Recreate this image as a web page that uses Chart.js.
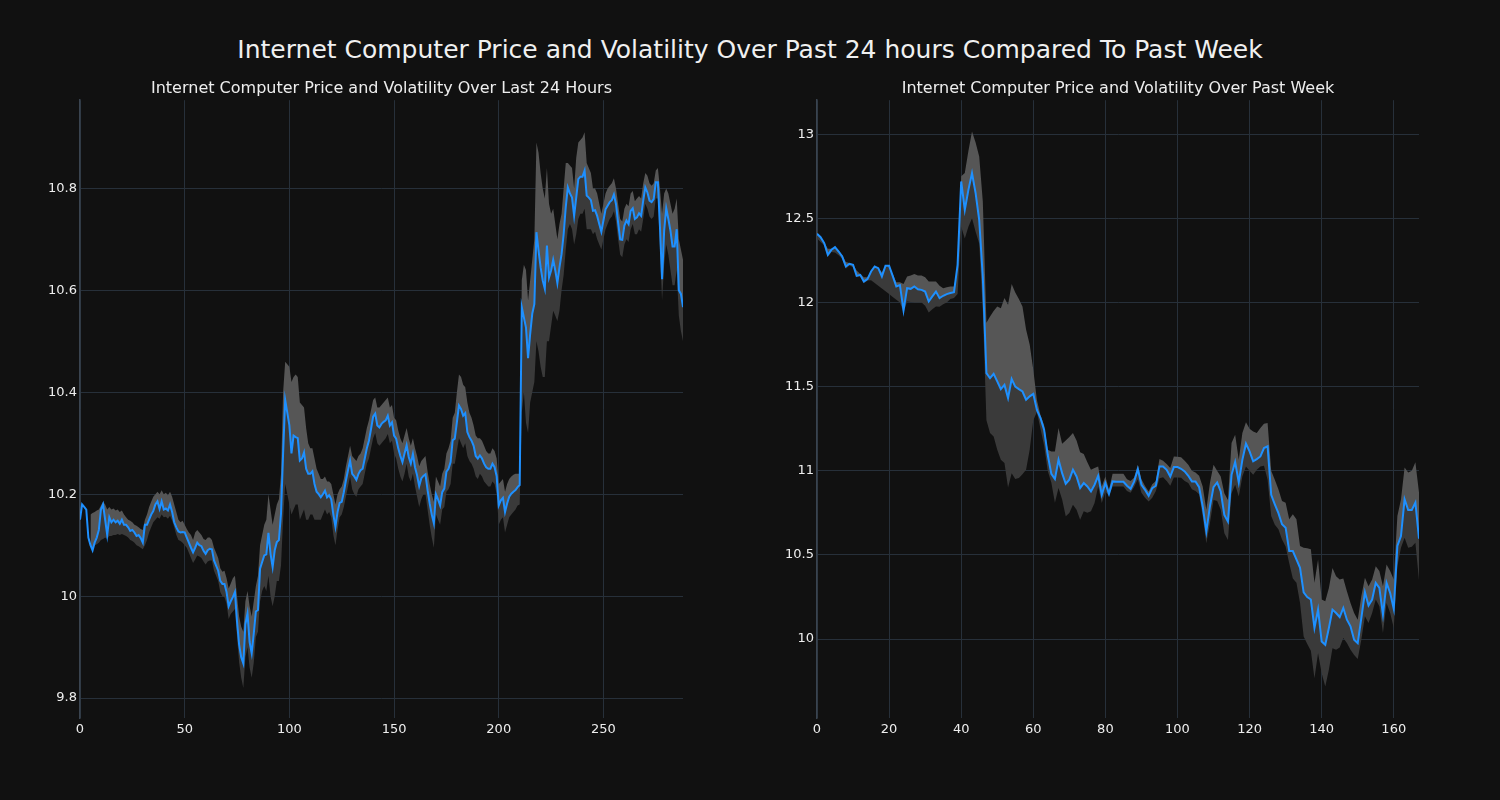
<!DOCTYPE html>
<html><head><meta charset="utf-8">
<script src="https://cdn.jsdelivr.net/npm/chart.js@4.4.0/dist/chart.umd.min.js"></script>
<style>
html,body{margin:0;padding:0;background:#111111;}
body{width:1500px;height:800px;position:relative;overflow:hidden;font-family:"DejaVu Sans",sans-serif;}
#title{position:absolute;left:0;top:35px;width:1500px;text-align:center;color:#f0f0f0;font-size:25px;line-height:30px;}
.box{position:absolute;top:77px;width:750px;height:681px;}
</style></head><body>
<div id="title">Internet Computer Price and Volatility Over Past 24 hours Compared To Past Week</div>
<div class="box" style="left:0"><canvas id="c1" width="750" height="681"></canvas></div>
<div class="box" style="left:750px"><canvas id="c2" width="750" height="681"></canvas></div>
<script>
const leftTitle = "Internet Computer Price and Volatility Over Last 24 Hours";
const rightTitle = "Internet Computer Price and Volatility Over Past Week";

const leftPrice = [
10.15,10.18,10.175,10.17,10.115,10.10,10.09,10.105,10.115,10.13,
10.17,10.18,10.15,10.12,10.155,10.145,10.15,10.145,10.148,10.142,
10.15,10.14,10.14,10.135,10.128,10.13,10.125,10.118,10.12,10.114,
10.105,10.14,10.14,10.15,10.16,10.167,10.18,10.186,10.171,10.186,
10.17,10.172,10.168,10.18,10.165,10.145,10.135,10.127,10.125,10.126,
10.125,10.115,10.105,10.095,10.086,10.095,10.105,10.10,10.098,10.089,
10.083,10.09,10.093,10.092,10.07,10.06,10.05,10.03,10.024,10.024,
10.008,9.98,9.99,9.998,10.008,9.95,9.905,9.88,9.868,9.945,
9.966,9.91,9.888,9.927,9.97,9.973,10.054,10.067,10.08,10.082,
10.124,10.083,10.057,10.09,10.106,10.11,10.162,10.28,10.385,10.36,
10.335,10.28,10.315,10.312,10.31,10.266,10.27,10.282,10.25,10.24,
10.24,10.245,10.22,10.205,10.2,10.194,10.2,10.207,10.194,10.198,
10.19,10.16,10.136,10.165,10.183,10.185,10.204,10.227,10.247,10.266,
10.24,10.235,10.228,10.24,10.247,10.25,10.27,10.29,10.305,10.328,
10.352,10.358,10.335,10.331,10.338,10.342,10.345,10.354,10.335,10.341,
10.315,10.309,10.29,10.275,10.263,10.28,10.296,10.273,10.26,10.279,
10.253,10.237,10.216,10.231,10.236,10.239,10.208,10.182,10.16,10.143,
10.2,10.19,10.178,10.204,10.211,10.244,10.25,10.263,10.306,10.309,
10.341,10.374,10.367,10.354,10.359,10.322,10.312,10.305,10.295,10.275,
10.27,10.276,10.27,10.26,10.253,10.25,10.25,10.26,10.253,10.235,
10.178,10.188,10.193,10.165,10.182,10.195,10.201,10.205,10.208,10.214,
10.218,10.567,10.547,10.527,10.467,10.514,10.554,10.573,10.714,10.678,
10.645,10.619,10.603,10.688,10.625,10.639,10.66,10.639,10.614,10.645,
10.671,10.71,10.763,10.802,10.79,10.782,10.746,10.782,10.818,10.823,
10.823,10.835,10.786,10.782,10.777,10.756,10.757,10.746,10.73,10.715,
10.737,10.759,10.766,10.773,10.777,10.788,10.769,10.733,10.7,10.699,
10.727,10.737,10.73,10.756,10.761,10.74,10.743,10.751,10.746,10.776,
10.802,10.792,10.776,10.773,10.779,10.812,10.812,10.724,10.622,10.717,
10.761,10.74,10.717,10.686,10.686,10.72,10.6,10.593,10.567
];
const leftUpper = [
null,null,null,null,null,10.16,10.163,10.165,10.168,10.17,
10.178,10.185,10.18,10.17,10.175,10.17,10.172,10.168,10.17,10.165,
10.168,10.16,10.155,10.15,10.148,10.145,10.14,10.138,10.135,10.132,
10.13,10.15,10.16,10.175,10.185,10.195,10.2,10.205,10.2,10.208,
10.2,10.203,10.198,10.205,10.195,10.18,10.165,10.15,10.145,10.148,
10.14,10.132,10.125,10.12,10.11,10.125,10.13,10.125,10.12,10.112,
10.11,10.115,10.115,10.11,10.095,10.085,10.075,10.055,10.048,10.05,
10.035,10.015,10.025,10.035,10.04,10.0,9.96,9.94,9.93,9.99,
10.01,9.98,9.96,9.99,10.02,10.04,10.1,10.12,10.14,10.15,
10.2,10.17,10.14,10.16,10.18,10.19,10.24,10.4,10.46,10.455,
10.45,10.42,10.43,10.435,10.43,10.38,10.375,10.37,10.33,10.3,
10.29,10.29,10.27,10.25,10.24,10.23,10.23,10.235,10.225,10.225,
10.22,10.2,10.18,10.2,10.21,10.215,10.23,10.255,10.275,10.295,
10.275,10.27,10.265,10.275,10.28,10.29,10.31,10.33,10.345,10.365,
10.385,10.39,10.37,10.37,10.375,10.38,10.385,10.39,10.37,10.375,
10.35,10.345,10.325,10.31,10.3,10.315,10.33,10.31,10.295,10.31,
10.29,10.275,10.255,10.265,10.27,10.275,10.245,10.22,10.2,10.185,
10.235,10.225,10.215,10.24,10.25,10.28,10.29,10.305,10.35,10.36,
10.4,10.435,10.43,10.415,10.41,10.38,10.36,10.35,10.335,10.315,
10.31,10.31,10.305,10.295,10.285,10.28,10.28,10.29,10.285,10.27,
10.22,10.225,10.23,10.205,10.22,10.23,10.235,10.238,10.24,10.24,
10.24,10.62,10.65,10.64,10.58,10.62,10.66,10.7,10.89,10.87,
10.83,10.8,10.78,10.84,10.77,10.75,10.76,10.73,10.7,10.73,
10.75,10.8,10.85,10.85,10.845,10.84,10.8,10.86,10.89,10.895,
10.9,10.91,10.85,10.84,10.83,10.8,10.8,10.79,10.77,10.75,
10.77,10.79,10.8,10.805,10.81,10.82,10.8,10.77,10.74,10.735,
10.76,10.77,10.765,10.79,10.795,10.775,10.78,10.785,10.78,10.81,
10.83,10.825,10.81,10.805,10.81,10.835,10.84,10.8,10.75,10.79,
10.8,10.79,10.77,10.75,10.76,10.78,10.7,10.68,10.66
];
const leftLower = [
null,null,null,null,null,10.10,10.098,10.10,10.102,10.105,
10.11,10.112,10.115,10.112,10.118,10.118,10.12,10.12,10.122,10.12,
10.122,10.12,10.118,10.115,10.11,10.108,10.105,10.1,10.098,10.095,
10.092,10.1,10.11,10.125,10.135,10.145,10.15,10.155,10.152,10.16,
10.155,10.156,10.152,10.158,10.148,10.135,10.12,10.11,10.108,10.105,
10.1,10.095,10.085,10.075,10.065,10.072,10.08,10.078,10.075,10.068,
10.062,10.068,10.07,10.07,10.05,10.04,10.03,10.008,10.0,9.998,
9.985,9.955,9.965,9.97,9.975,9.92,9.87,9.84,9.82,9.88,
9.9,9.86,9.84,9.87,9.92,9.93,9.99,10.01,10.02,10.01,
10.04,10.0,9.98,10.0,10.03,10.03,10.06,10.15,10.22,10.2,
10.18,10.16,10.17,10.18,10.18,10.15,10.16,10.17,10.15,10.15,
10.16,10.16,10.15,10.15,10.15,10.15,10.16,10.17,10.16,10.165,
10.155,10.12,10.1,10.13,10.155,10.16,10.175,10.195,10.215,10.235,
10.21,10.2,10.195,10.21,10.215,10.22,10.24,10.26,10.27,10.29,
10.31,10.32,10.3,10.295,10.3,10.305,10.31,10.318,10.3,10.305,
10.28,10.27,10.25,10.235,10.225,10.24,10.26,10.235,10.225,10.24,
10.215,10.195,10.175,10.19,10.2,10.2,10.17,10.14,10.115,10.095,
10.16,10.15,10.14,10.17,10.175,10.205,10.21,10.22,10.26,10.26,
10.285,10.31,10.3,10.29,10.3,10.275,10.265,10.26,10.25,10.235,
10.23,10.24,10.235,10.225,10.22,10.215,10.215,10.225,10.22,10.2,
10.14,10.15,10.155,10.125,10.14,10.155,10.16,10.165,10.17,10.178,
10.18,10.36,10.4,10.34,10.32,10.38,10.4,10.42,10.5,10.48,
10.45,10.43,10.43,10.5,10.5,10.53,10.56,10.55,10.54,10.56,
10.6,10.63,10.68,10.72,10.73,10.72,10.69,10.71,10.74,10.75,
10.75,10.76,10.72,10.72,10.72,10.71,10.715,10.7,10.69,10.68,
10.7,10.72,10.73,10.74,10.745,10.755,10.735,10.7,10.67,10.665,
10.69,10.7,10.695,10.72,10.73,10.71,10.71,10.72,10.715,10.74,
10.77,10.76,10.745,10.74,10.745,10.78,10.78,10.68,10.58,10.65,
10.69,10.67,10.64,10.61,10.61,10.64,10.55,10.52,10.5
];

const rightPrice = [
12.408,12.388,12.353,12.283,12.313,12.329,12.303,12.273,12.214,12.23,
12.224,12.158,12.164,12.125,12.139,12.184,12.214,12.204,12.155,12.218,
12.218,12.158,12.095,12.103,11.953,12.085,12.081,12.095,12.079,12.075,
12.065,12.006,12.036,12.065,12.026,12.04,12.05,12.056,12.061,12.224,
12.719,12.55,12.669,12.768,12.65,12.49,12.15,11.58,11.55,11.576,
11.531,11.485,11.51,11.432,11.545,11.5,11.485,11.471,11.422,11.442,
11.457,11.362,11.313,11.244,11.095,10.982,10.951,11.065,10.986,10.923,
10.947,11.006,10.966,10.897,10.927,10.907,10.877,10.917,10.97,10.857,
10.927,10.863,10.937,10.935,10.935,10.935,10.911,10.893,10.937,11.01,
10.917,10.887,10.851,10.897,10.911,11.026,11.026,11.006,10.966,11.022,
11.022,11.012,10.996,10.97,10.937,10.937,10.903,10.788,10.639,10.788,
10.903,10.931,10.877,10.738,10.698,10.976,11.052,10.931,11.065,11.161,
11.115,11.056,11.069,11.085,11.135,11.145,10.857,10.801,10.748,10.682,
10.662,10.523,10.523,10.473,10.423,10.278,10.25,10.235,10.066,10.175,
9.986,9.966,10.066,10.175,10.155,10.131,10.185,10.115,10.076,9.996,
9.976,10.125,10.278,10.199,10.235,10.334,10.304,10.145,10.334,10.274,
10.179,10.553,10.612,10.831,10.767,10.767,10.811,10.596
];
const rightUpper = [
12.41,12.39,12.36,12.32,12.32,12.33,12.31,12.28,12.24,12.235,
12.225,12.19,12.17,12.15,12.15,12.185,12.215,12.205,12.18,12.218,
12.218,12.17,12.12,12.12,12.11,12.155,12.16,12.17,12.16,12.16,
12.15,12.125,12.125,12.125,12.1,12.085,12.09,12.095,12.095,12.2,
12.75,12.77,12.9,13.016,12.95,12.867,12.6,11.88,11.917,11.95,
11.976,11.966,12.026,11.986,12.11,12.06,12.02,11.976,11.84,11.75,
11.6,11.42,11.33,11.27,11.125,11.115,11.115,11.254,11.16,11.18,
11.2,11.224,11.18,11.11,11.1,11.05,11.006,11.016,11.026,10.907,
10.966,10.887,10.982,10.982,10.982,10.982,10.95,10.94,10.96,11.036,
10.95,10.91,10.877,10.92,10.94,11.07,11.06,11.04,11.016,11.085,
11.083,11.08,11.06,11.036,11.0,10.99,10.97,10.907,10.768,10.927,
11.036,11.0,10.966,10.867,10.827,11.165,11.214,11.065,11.224,11.288,
11.25,11.234,11.224,11.254,11.28,11.284,11.0,10.946,10.89,10.82,
10.81,10.712,10.742,10.712,10.553,10.543,10.54,10.533,10.334,10.473,
10.235,10.225,10.304,10.423,10.374,10.354,10.36,10.284,10.215,10.155,
10.115,10.254,10.364,10.314,10.354,10.433,10.404,10.314,10.443,10.404,
10.354,10.732,10.83,11.02,10.99,11.0,11.05,10.871
];
const rightLower = [
12.38,12.36,12.34,12.27,12.3,12.297,12.28,12.26,12.2,12.22,
12.21,12.15,12.155,12.115,12.13,12.132,12.116,12.1,12.083,12.067,
12.05,12.033,12.017,12.0,11.94,12.006,12.003,12.0,12.0,12.0,
11.98,11.94,11.96,11.976,11.975,11.99,12.0,12.02,12.026,12.05,
12.45,12.38,12.45,12.5,12.42,12.35,11.95,11.3,11.224,11.204,
11.125,11.065,11.046,10.9,10.986,10.951,10.957,10.98,11.006,11.125,
11.3,11.35,11.25,11.15,11.0,10.93,10.81,10.897,10.83,10.73,
10.749,10.798,10.768,10.709,10.759,10.75,10.76,10.808,10.907,10.808,
10.877,10.85,10.907,10.907,10.907,10.907,10.88,10.87,10.905,10.95,
10.87,10.84,10.817,10.84,10.88,10.956,10.962,10.94,10.911,10.96,
10.96,10.958,10.94,10.927,10.89,10.88,10.86,10.728,10.569,10.688,
10.827,10.82,10.768,10.629,10.589,10.867,10.917,10.847,10.966,11.026,
11.0,10.976,11.006,11.026,11.03,10.946,10.732,10.68,10.652,10.592,
10.55,10.45,10.36,10.334,10.215,10.016,9.97,9.93,9.767,9.916,
9.797,9.718,9.817,9.946,9.936,9.95,10.006,9.976,9.936,9.906,
9.881,9.996,10.135,10.095,10.155,10.235,10.195,10.036,10.215,10.155,
10.066,10.433,10.543,10.602,10.543,10.549,10.573,10.35
];

const leftXTicks = {min: 0, max: 288, step: 50};
const leftYTicks = {min: 9.761, max: 10.973, step: 0.2};
const rightXTicks = {min: 0, max: 167, step: 20};
const rightYTicks = {min: 9.531, max: 13.202, step: 0.5};

Chart.defaults.font.family = '"DejaVu Sans", sans-serif';
Chart.defaults.color = '#eeeeee';

const GRID = '#27303a';
const SPINE = '#3a4450';
const LINE = '#1e90ff';
const BAND_HI = '#565656';
const BAND_LO = '#3a3a3a';

function pts(arr){ return arr.map((v,i)=>({x:i, y:v})); }
function fmt(v){ return String(Math.round(v*100)/100); }

function makeChart(id, title, price, upper, lower, xt, yt, yWidth, padRight){
  new Chart(document.getElementById(id), {
    type: 'line',
    data: {
      datasets: [
        {label:'price', data: pts(price), borderColor: LINE, borderWidth: 2, pointRadius: 0, fill: false, tension: 0},
        {label:'upper', data: pts(upper), borderColor: 'rgba(0,0,0,0)', borderWidth: 0, pointRadius: 0, fill: '-1', backgroundColor: BAND_HI, tension: 0},
        {label:'lower', data: pts(lower), borderColor: 'rgba(0,0,0,0)', borderWidth: 0, pointRadius: 0, fill: '-2', backgroundColor: BAND_LO, tension: 0}
      ]
    },
    options: {
      responsive: false,
      animation: false,
      events: [],
      layout: {padding: {left: 0, right: padRight, top: 0, bottom: 0}},
      plugins: {
        legend: {display: false},
        tooltip: {enabled: false},
        title: {display: true, text: title, color: '#eeeeee', fullSize: false,
                font: {size: 16, weight: 'normal'}, padding: {top: 2, bottom: 2}}
      },
      scales: {
        x: {
          type: 'linear', min: xt.min, max: xt.max,
          grid: {color: GRID, lineWidth: 1, drawTicks: false},
          border: {display: false},
          ticks: {stepSize: xt.step, includeBounds: false, padding: 4, maxRotation: 0,
                  font: {size: 13}, callback: v => fmt(v)},
          afterFit: s => { s.height = 40; }
        },
        y: {
          type: 'linear', min: yt.min, max: yt.max,
          grid: {color: GRID, lineWidth: 1, drawTicks: false},
          border: {display: true, color: SPINE, width: 1.5},
          ticks: {stepSize: yt.step, includeBounds: false, padding: 3,
                  font: {size: 13}, callback: v => fmt(v)},
          afterFit: s => { s.width = yWidth; }
        }
      }
    }
  });
}

makeChart('c1', leftTitle, leftPrice, leftUpper, leftLower, leftXTicks, leftYTicks, 80, 67);
makeChart('c2', rightTitle, rightPrice, rightUpper, rightLower, rightXTicks, rightYTicks, 67, 81);
</script>
</body></html>
